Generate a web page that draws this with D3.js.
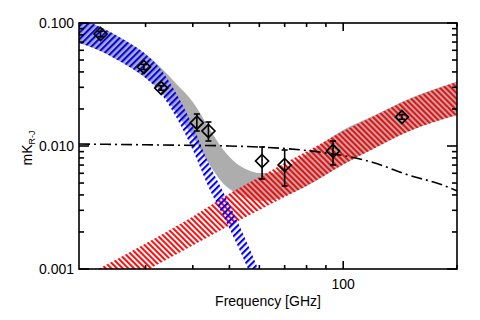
<!DOCTYPE html>
<html><head><meta charset="utf-8">
<script src="https://cdn.jsdelivr.net/npm/d3@7"></script>
<style>body{margin:0;background:#fff}svg{display:block}text{font-family:"Liberation Sans",Arial,sans-serif;fill:#000}</style>
</head><body>
<svg id="c" width="480" height="320"></svg>
<script>
// ---- data ----
const blueFreq = [20,22,25,28,30,33,36,40,44,48,52,56,60];
const blueHi = [0.1078,0.0972,0.0799,0.0650,0.0560,0.0415,0.0275,0.01454,0.00727,0.00431,0.00260,0.001567,0.000945];
const blueLo = [0.0688,0.0620,0.0510,0.0415,0.0357,0.0265,0.01754,0.00928,0.00464,0.00275,0.001658,0.00100,0.000603];

const redFreq = [20,30,40,50,60,70,80,100,120,150,200];
const redHi = [0.000829,0.00161,0.00267,0.00411,0.00560,0.00727,0.00902,0.01324,0.01738,0.0241,0.0331];
const redLo = [0.000482,0.000963,0.00155,0.00226,0.00302,0.00385,0.00473,0.00707,0.00946,0.01324,0.01787];

const grayFreq = [20,22,25,28,30,33,36,40,44,48,52,56,60,65,70,80,90,100,120,150,200];
const grayHi = [0.1078,0.0972,0.0799,0.0650,0.0560,0.0431,0.0325,0.0228,0.01427,0.00945,0.00727,0.00638,0.00603,0.00603,0.00662,0.00861,0.01098,0.01349,0.01754,0.0243,0.0334];
const grayLo = [0.0688,0.0620,0.0510,0.0415,0.0357,0.0275,0.0190,0.01200,0.00727,0.00500,0.00415,0.00378,0.00357,0.00364,0.00392,0.00473,0.00581,0.00707,0.00946,0.01324,0.01787];

const lineFreq = [20,33,50,70,80,90,100,120,150,180,200];
const lineVal = [0.01038,0.01019,0.01000,0.00954,0.00919,0.00877,0.00837,0.00734,0.00576,0.00491,0.00431];

const ptFreq = [22.8,29.7,33,41,44,61,70,94,143];
const ptVal = [0.0814,0.0439,0.0296,0.01547,0.01324,0.00755,0.00701,0.0091,0.0172];
const ptLo = [0.0775,0.0418,0.0284,0.01324,0.01098,0.00539,0.00473,0.00701,0.0165];
const ptHi = [0.0855,0.0461,0.0309,0.0182,0.01567,0.00982,0.00928,0.01098,0.0180];

const yMajor = [0.001,0.01,0.1];
const yMajorLabels = ["0.001","0.010","0.100"];
const xMajor = [100];
const xMajorLabels = ["100"];

// ---- layout ----
const L=79, R=457, T=23, B=269;
const x = d3.scaleLog().domain([20,200]).range([L,R]);
const y = d3.scaleLog().domain([0.001,0.1]).range([B,T]);
const svg = d3.select("#c");
const defs = svg.append("defs");
defs.append("clipPath").attr("id","clip").append("rect").attr("x",L).attr("y",T).attr("width",R-L).attr("height",B-T);
function hatch(id,color,angle,gap,w){
  const p = defs.append("pattern").attr("id",id).attr("patternUnits","userSpaceOnUse")
    .attr("width",gap).attr("height",gap).attr("patternTransform",`rotate(${angle})`);
  p.append("rect").attr("x",0).attr("y",0).attr("width",w).attr("height",gap).attr("fill",color);
}
hatch("hb","#0000ff",45,4.6,2.1);
hatch("hr","#ff0000",-45,4.0,1.9);

const band = (fr,lo,hi)=>fr.map((f,i)=>({f,lo:lo[i],hi:hi[i]}));
const area = d3.area().x(d=>x(d.f)).y0(d=>y(d.lo)).y1(d=>y(d.hi)).curve(d3.curveMonotoneX);
const g = svg.append("g").attr("clip-path","url(#clip)");
g.append("path").attr("d",area(band(grayFreq,grayLo,grayHi))).attr("fill","#adadad");
g.append("path").attr("d",area(band(redFreq,redLo,redHi))).attr("fill","url(#hr)");
g.append("path").attr("d",area(band(blueFreq,blueLo,blueHi))).attr("fill","url(#hb)");
const line = d3.line().x(d=>x(d.f)).y(d=>y(d.v)).curve(d3.curveMonotoneX);
g.append("path").attr("d",line(lineFreq.map((f,i)=>({f,v:lineVal[i]}))))
  .attr("fill","none").attr("stroke","#000").attr("stroke-width",1.6).attr("stroke-dasharray","11,4,2,4");

// points
const pts = svg.append("g");
ptFreq.forEach((f,i)=>{
  const cx=x(f), cy=y(ptVal[i]);
  pts.append("line").attr("x1",cx).attr("x2",cx).attr("y1",y(ptLo[i])).attr("y2",y(ptHi[i])).attr("stroke","#000").attr("stroke-width",1.6);
  [ptLo[i],ptHi[i]].forEach(v=>pts.append("line").attr("x1",cx-3).attr("x2",cx+3).attr("y1",y(v)).attr("y2",y(v)).attr("stroke","#000").attr("stroke-width",1.6));
  const s=6.5;
  pts.append("path").attr("d",`M${cx},${cy-s}L${cx+s},${cy}L${cx},${cy+s}L${cx-s},${cy}Z`).attr("fill","none").attr("stroke","#000").attr("stroke-width",1.7);
});

// axes frame
const ax = svg.append("g").attr("stroke","#000").attr("stroke-width",1.6);
ax.append("rect").attr("x",L).attr("y",T).attr("width",R-L).attr("height",B-T).attr("fill","none");
const yMinor=[];
for(let d=0.001; d<0.1; d*=10){ for(let k=2;k<=9;k++) yMinor.push(d*k); }
yMinor.forEach(v=>{
  ax.append("line").attr("x1",L).attr("x2",L+5).attr("y1",y(v)).attr("y2",y(v));
  ax.append("line").attr("x1",R).attr("x2",R-5).attr("y1",y(v)).attr("y2",y(v));
});
yMajor.forEach(v=>{
  ax.append("line").attr("x1",L).attr("x2",L+10).attr("y1",y(v)).attr("y2",y(v));
  ax.append("line").attr("x1",R).attr("x2",R-10).attr("y1",y(v)).attr("y2",y(v));
});
const xMinor=[30,40,50,60,70,80,90,200];
xMinor.forEach(v=>{
  ax.append("line").attr("x1",x(v)).attr("x2",x(v)).attr("y1",B).attr("y2",B-4);
  ax.append("line").attr("x1",x(v)).attr("x2",x(v)).attr("y1",T).attr("y2",T+4);
});
xMajor.forEach(v=>{
  ax.append("line").attr("x1",x(v)).attr("x2",x(v)).attr("y1",B).attr("y2",B-8);
  ax.append("line").attr("x1",x(v)).attr("x2",x(v)).attr("y1",T).attr("y2",T+8);
});
yMajor.forEach((v,i)=>svg.append("text").attr("x",74).attr("y",y(v)+5).attr("text-anchor","end").attr("font-size",14).text(yMajorLabels[i]));
xMajor.forEach((v,i)=>svg.append("text").attr("x",x(v)).attr("y",289).attr("text-anchor","middle").attr("font-size",14).text(xMajorLabels[i]));
svg.append("text").attr("x",268).attr("y",306).attr("text-anchor","middle").attr("font-size",14).text("Frequency [GHz]");
const yl = svg.append("text").attr("transform","translate(32,148) rotate(-90)").attr("text-anchor","middle").attr("font-size",14);
yl.append("tspan").text("mK");
yl.append("tspan").attr("font-size",9).attr("dy",3).text("R-J");
</script>
</body></html>
